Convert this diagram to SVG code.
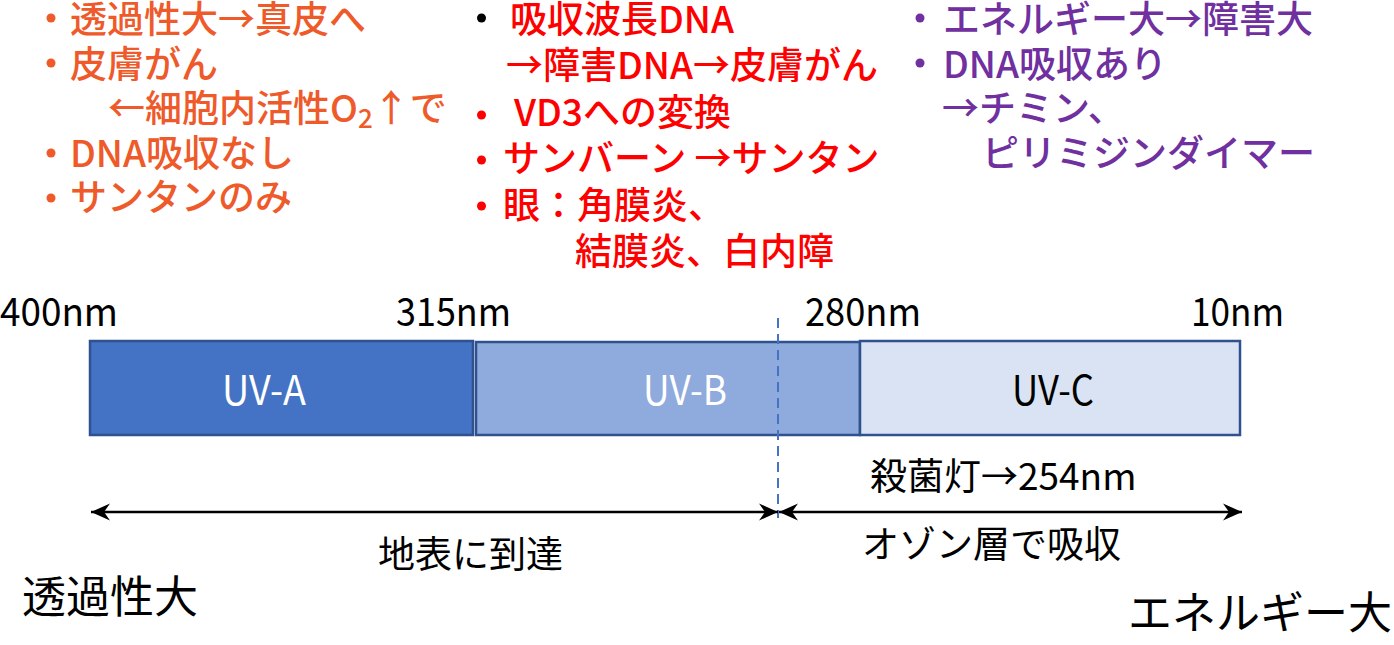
<svg xmlns="http://www.w3.org/2000/svg" width="1394" height="645" viewBox="0 0 1394 645">
<defs>
<style>
text{font-family:"Noto Sans CJK JP","Noto Sans",sans-serif}
.t{font-size:37px;font-weight:500}
.or{fill:#EE5A2A}
.rd{fill:#FF0000}
.pu{fill:#7030A0}
.bk{fill:#000}
.num{font-size:39px;fill:#000}
.bar{stroke:#2F528F;stroke-width:2.5}
.bl{font-size:41px}
.ax{stroke:#000;stroke-width:2.5;fill:none}
</style>
<marker id="ah" viewBox="-20 -10 22 20" refX="0" refY="0" markerWidth="22" markerHeight="20" markerUnits="userSpaceOnUse" orient="auto-start-reverse">
<path d="M0,0 L-19,-8.5 L-13,0 L-19,8.5 Z" fill="#000"/>
</marker>
</defs>
<rect width="1394" height="645" fill="#fff"/>

<g id="orange-notes" class="t or">
<circle cx="51" cy="18" r="4.5"/>
<circle cx="51" cy="63" r="4.5"/>
<circle cx="51" cy="153" r="4.5"/>
<circle cx="51" cy="198" r="4.5"/>
<text x="70" y="33">透過性大→真皮へ</text>
<text x="70" y="77.5">皮膚がん</text>
<text x="108" y="122">←細胞内活性O<tspan font-size="26" dy="6">2</tspan><tspan dy="-6">↑で</tspan></text>
<text x="70" y="166.5">DNA吸収なし</text>
<text x="70" y="211">サンタンのみ</text>
</g>

<g id="red-notes" class="t rd">
<circle cx="481.5" cy="18" r="4.5" fill="#000"/>
<circle cx="481.5" cy="115" r="4.5"/>
<circle cx="481.5" cy="160" r="4.5"/>
<circle cx="481.5" cy="206" r="4.5"/>
<text x="510" y="33">吸収波長DNA</text>
<text x="506" y="79">→障害DNA→皮膚がん</text>
<text x="514" y="126">VD3への変換</text>
<text x="503" y="172">サンバーン →サンタン</text>
<text x="503" y="219">眼：角膜炎、</text>
<text x="575" y="265">結膜炎、白内障</text>
</g>

<g id="purple-notes" class="t pu">
<circle cx="920" cy="18" r="4.5"/>
<circle cx="920" cy="63" r="4.5"/>
<text x="943" y="33">エネルギー大→障害大</text>
<text x="943" y="78">DNA吸収あり</text>
<text x="942" y="122">→チミン、</text>
<text x="982" y="167">ピリミジンダイマー</text>
</g>

<g id="wavelengths" class="num">
<text x="0" y="326" textLength="118" lengthAdjust="spacingAndGlyphs">400nm</text>
<text x="396" y="326" textLength="115" lengthAdjust="spacingAndGlyphs">315nm</text>
<text x="805" y="326" textLength="116" lengthAdjust="spacingAndGlyphs">280nm</text>
<text x="1191" y="326" textLength="93" lengthAdjust="spacingAndGlyphs">10nm</text>
</g>

<g id="uv-a">
<rect class="bar" x="90" y="341" width="383" height="94" fill="#4472C4"/>
<text class="bl" x="222" y="405" fill="#fff" textLength="84" lengthAdjust="spacingAndGlyphs">UV-A</text>
</g>
<g id="uv-b">
<rect class="bar" x="476" y="342" width="384" height="93" fill="#8FAADC"/>
<text class="bl" x="643" y="405" fill="#fff" textLength="84" lengthAdjust="spacingAndGlyphs">UV-B</text>
</g>
<g id="uv-c">
<rect class="bar" x="860" y="341" width="380" height="94" fill="#DAE3F3"/>
<text class="bl" x="1012" y="405" fill="#000" textLength="82" lengthAdjust="spacingAndGlyphs">UV-C</text>
</g>

<g id="connectors">
<line x1="778" y1="318" x2="778" y2="518" stroke="#4472C4" stroke-width="2" stroke-dasharray="10 6"/>
<line class="ax" x1="91" y1="512" x2="778" y2="512" marker-start="url(#ah)" marker-end="url(#ah)"/>
<line class="ax" x1="779" y1="512" x2="1242" y2="512" marker-start="url(#ah)" marker-end="url(#ah)"/>
</g>

<g id="labels" class="bk">
<text x="870" y="490" font-size="37">殺菌灯→254nm</text>
<text x="378" y="568" font-size="37">地表に到達</text>
<text x="862" y="558" font-size="37">オゾン層で吸収</text>
<text x="22" y="613" font-size="44">透過性大</text>
<text x="1128" y="629" font-size="44">エネルギー大</text>
</g>
</svg>
